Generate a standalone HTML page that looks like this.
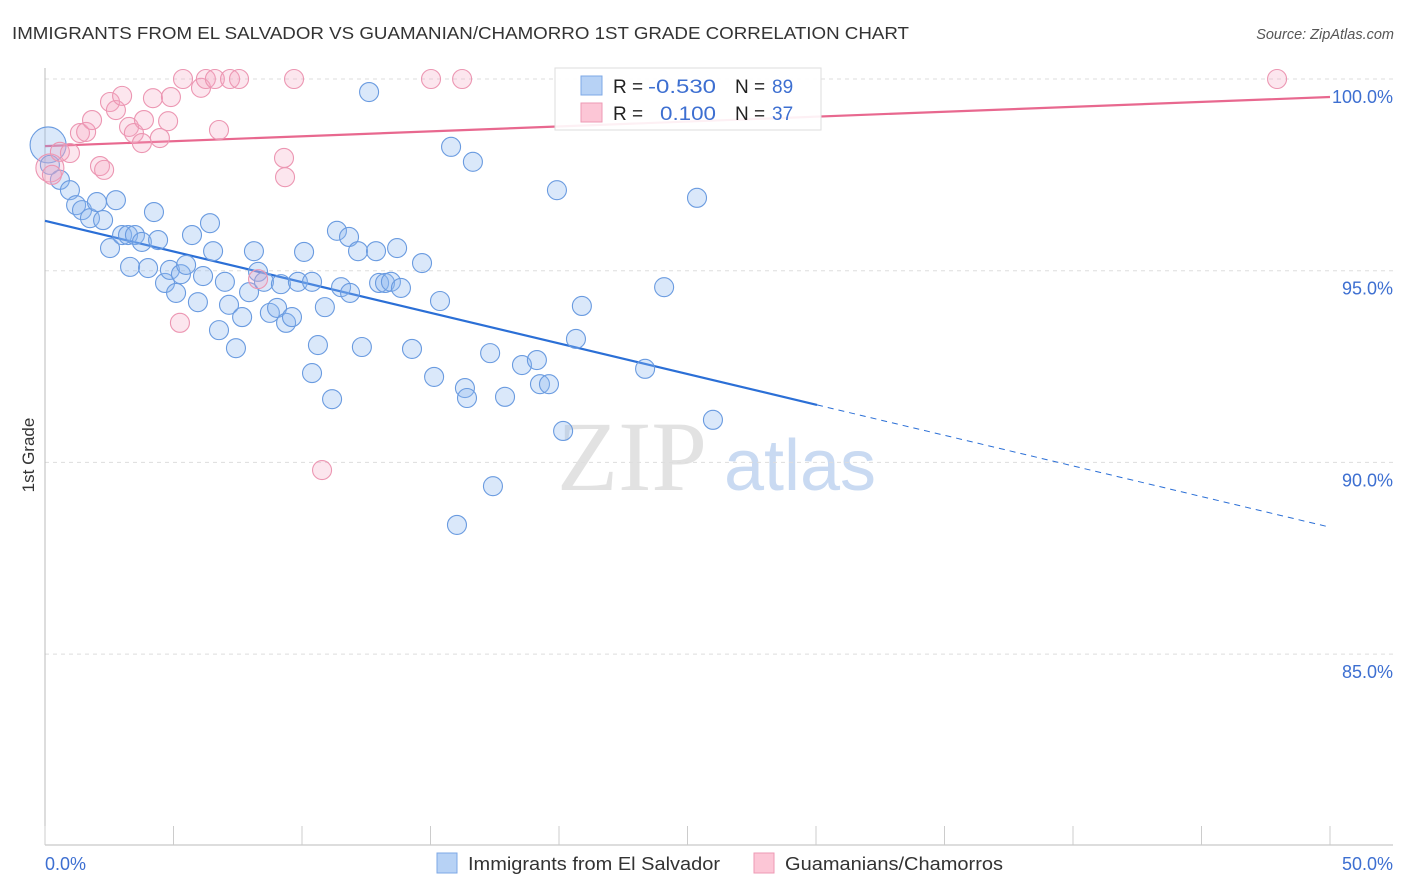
<!DOCTYPE html>
<html><head><meta charset="utf-8"><style>
body{margin:0;background:#fff;font-family:"Liberation Sans",sans-serif;}
#wrap{position:relative;width:1406px;height:892px;overflow:hidden;}
</style></head><body>
<div id="wrap">
<svg id="svg" width="1406" height="892" xmlns="http://www.w3.org/2000/svg">
<text x="12" y="39" font-size="17.5" fill="#333" textLength="897" lengthAdjust="spacingAndGlyphs">IMMIGRANTS FROM EL SALVADOR VS GUAMANIAN/CHAMORRO 1ST GRADE CORRELATION CHART</text>
<text x="1394" y="39" font-size="14.5" fill="#555" font-style="italic" text-anchor="end">Source: ZipAtlas.com</text>
<text x="34" y="455" font-size="17" fill="#333" text-anchor="middle" transform="rotate(-90 34 455)">1st Grade</text>
<g>
<text x="632" y="490" font-size="100" font-family="Liberation Serif,serif" fill="#e2e2e2" text-anchor="middle">ZIP</text>
<text x="800" y="490" font-size="72" fill="#c9daf2" text-anchor="middle">atlas</text>
</g>
<g id="grid"></g><g id="axes"></g><g id="lines"></g><g id="pts"></g>
<g>
<rect x="555" y="68" width="266" height="62" fill="#fff" fill-opacity="0.9" stroke="#ddd"/>
<rect x="581" y="76" width="21" height="19" fill="#b7d2f5" stroke="#7ea8e6"/>
<rect x="581" y="103" width="21" height="19" fill="#fcc6d6" stroke="#ee9ab4"/>
<text font-size="19" fill="#222"><tspan x="613" y="93">R =</tspan><tspan x="648" y="93" fill="#3d6fd1" textLength="68" lengthAdjust="spacingAndGlyphs">-0.530</tspan><tspan x="735" y="93">N =</tspan><tspan x="772" y="93" fill="#3d6fd1">89</tspan></text>
<text font-size="19" fill="#222"><tspan x="613" y="120">R =</tspan><tspan x="660" y="120" fill="#3d6fd1" textLength="56" lengthAdjust="spacingAndGlyphs">0.100</tspan><tspan x="735" y="120">N =</tspan><tspan x="772" y="120" fill="#3d6fd1">37</tspan></text>
</g>
<g>
<rect x="437" y="853" width="20" height="20" fill="#b7d2f5" stroke="#7ea8e6"/>
<text x="468" y="870" font-size="18" fill="#333" textLength="252" lengthAdjust="spacingAndGlyphs">Immigrants from El Salvador</text>
<rect x="754" y="853" width="20" height="20" fill="#fcc6d6" stroke="#ee9ab4"/>
<text x="785" y="870" font-size="18" fill="#333" textLength="218" lengthAdjust="spacingAndGlyphs">Guamanians/Chamorros</text>
</g>
<text x="45" y="870" font-size="18" fill="#3d6fd1">0.0%</text>
<text x="1393" y="870" font-size="18" fill="#3d6fd1" text-anchor="end">50.0%</text>
</svg>
</div>
<script>
const yTicks=[100,95,90,85];
const yTickLabels=["100.0%","95.0%","90.0%","85.0%"];
const xTicks=[0,5,10,15,20,25,30,35,40,45,50];
const blueX=[0.12,0.19,0.58,0.97,1.21,1.44,1.75,2.02,2.26,2.76,2.53,3.00,3.23,3.50,3.77,3.31,4.01,4.24,4.40,4.67,4.86,5.10,5.29,5.49,5.72,5.95,6.15,6.42,6.54,6.77,7.00,7.16,7.43,7.67,7.94,8.13,8.29,8.52,8.75,9.03,9.18,9.38,9.61,9.84,10.08,10.39,10.39,10.62,10.89,11.17,11.36,11.52,11.83,11.87,12.18,12.33,12.61,12.88,13.00,13.23,13.46,13.70,13.85,14.28,14.67,15.14,15.37,15.80,16.03,16.34,16.42,16.65,17.32,17.43,17.90,18.56,19.14,19.26,19.61,19.92,20.16,20.66,20.89,23.35,24.09,25.37,25.99];
const blueY=[98.28,97.76,97.37,97.10,96.71,96.58,96.37,96.79,96.32,96.84,95.59,95.93,95.93,95.93,95.75,95.10,95.07,96.53,95.80,94.68,95.02,94.42,94.91,95.15,95.93,94.18,94.86,96.24,95.51,93.45,94.71,94.11,92.98,93.79,94.44,95.51,94.97,94.71,93.90,94.03,94.65,93.64,93.79,94.71,95.49,94.71,92.33,93.06,94.05,91.65,96.04,94.57,95.88,94.42,95.51,93.01,99.66,95.51,94.68,94.68,94.71,95.59,94.55,92.96,95.20,92.23,94.21,98.23,88.37,91.94,91.68,97.84,92.85,89.38,91.71,92.54,92.67,92.04,92.04,97.10,90.82,93.22,94.08,92.44,94.57,96.90,91.11];
const pinkX=[0.19,0.27,0.58,0.97,1.36,1.60,1.83,2.14,2.30,2.53,2.76,3.00,3.27,3.46,3.77,3.85,4.20,4.47,4.79,4.90,5.25,5.37,6.07,6.26,6.61,6.77,7.20,7.55,8.29,9.30,9.34,9.69,10.78,15.02,16.23,47.94];
const pinkY=[97.68,97.50,98.10,98.07,98.59,98.62,98.93,97.73,97.63,99.40,99.19,99.56,98.75,98.59,98.33,98.93,99.50,98.46,98.90,99.53,93.64,100,99.77,100,100,98.67,100,100,94.78,97.94,97.44,100,89.80,100,100,100];
const blueTrend=[96.30,88.31];const blueSolidEnd=30.04;
const pinkTrend=[98.25,99.53];
const NS="http://www.w3.org/2000/svg";
const X=v=>45+v/50*1285;
const Y=v=>79+(100-v)*38.34;
function mk(tag,attrs,parent){const e=document.createElementNS(NS,tag);for(const k in attrs)e.setAttribute(k,attrs[k]);document.getElementById(parent).appendChild(e);return e;}
yTicks.forEach((t,i)=>{
 const l=mk('line',{x1:45,x2:1393,y1:Y(t),y2:Y(t),stroke:'#ddd','stroke-dasharray':'4,4'},'grid');
 
 
 const tx=mk('text',{x:1393,y:Y(t)+24,'font-size':18,fill:'#3d6fd1','text-anchor':'end'},'grid');
 tx.textContent=yTickLabels[i];
 
 
});
const ax=mk('line',{x1:45,x2:45,y1:68,y2:845,stroke:'#bbb'},'axes');


const bx=mk('line',{x1:45,x2:1393,y1:845,y2:845,stroke:'#bbb'},'axes');


xTicks.forEach(t=>{const l=mk('line',{x1:X(t),x2:X(t),y1:826,y2:845,stroke:'#ccc'},'axes');
 
 });
const lerp=(a,x)=>a[0]+(a[1]-a[0])*x/50;
let l1=mk('line',{x1:X(0),y1:Y(blueTrend[0]),x2:X(blueSolidEnd),y2:Y(lerp(blueTrend,blueSolidEnd)),stroke:'#2b6fd6','stroke-width':2.2},'lines');


let l2=mk('line',{x1:X(blueSolidEnd),y1:Y(lerp(blueTrend,blueSolidEnd)),x2:X(50),y2:Y(blueTrend[1]),stroke:'#2b6fd6','stroke-width':1,'stroke-dasharray':'6,5'},'lines');


let l3=mk('line',{x1:X(0),y1:Y(pinkTrend[0]),x2:X(50),y2:Y(pinkTrend[1]),stroke:'#e8688f','stroke-width':2.2},'lines');


blueX.forEach((x,i)=>{const c=mk('circle',{cx:X(x),cy:Y(blueY[i]),r:i==0?18:9.5,fill:'rgba(140,182,238,0.32)',stroke:'#6a9be0','stroke-width':1.1},'pts');
 
 });
pinkX.forEach((x,i)=>{const c=mk('circle',{cx:X(x),cy:Y(pinkY[i]),r:i==0?14:9.5,fill:'rgba(245,165,195,0.28)',stroke:'#ec96b2','stroke-width':1.1},'pts');
 
 });
</script>
</body></html>
